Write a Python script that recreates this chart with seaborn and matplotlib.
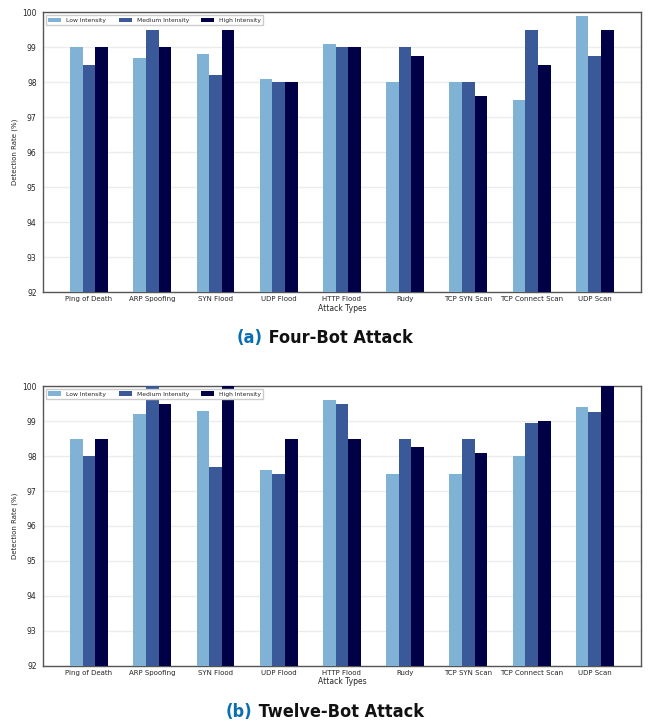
import pandas as pd
import matplotlib
matplotlib.use("Agg")
import matplotlib.pyplot as plt
from matplotlib import font_manager
import seaborn as sns

attack_types = ["Ping of Death", "ARP Spoofing", "SYN Flood", "UDP Flood", "HTTP Flood",
                "Rudy", "TCP SYN Scan", "TCP Connect Scan", "UDP Scan"]
levels = ["Low Intensity", "Medium Intensity", "High Intensity"]

# four-bot attack
four_low = [99.0, 98.7, 98.8, 98.1, 99.1, 98.0, 98.0, 97.5, 99.9]
four_med = [98.5, 99.5, 98.2, 98.0, 99.0, 99.0, 98.0, 99.5, 98.75]
four_high = [99.0, 99.0, 99.5, 98.0, 99.0, 98.75, 97.6, 98.5, 99.5]

# twelve-bot attack
twelve_low = [98.5, 99.2, 99.3, 97.6, 99.6, 97.5, 97.5, 98.0, 99.4]
twelve_med = [98.0, 100.0, 97.7, 97.5, 99.5, 98.5, 98.5, 98.95, 99.25]
twelve_high = [98.5, 99.5, 100.0, 98.5, 98.5, 98.25, 98.1, 99.0, 100.0]

colors = ["#7fb2d5", "#3a5999", "#000047"]

sns.set_theme(style="white")
plt.rcParams['font.family'] = ['DejaVu Sans']

# caption font: condensed if it exists
cond = [f for f in font_manager.fontManager.ttflist
        if f.name == "DejaVu Sans" and "ondensed" in f.fname and "Bold" in f.fname]
cap_kw = dict(fontsize=12.5, fontweight="bold")
if cond:
    cap_kw = dict(fontsize=13, fontproperties=font_manager.FontProperties(fname=cond[0].fname, size=13))


def to_long(low, med, high):
    rows = []
    for lvl, vals in zip(levels, [low, med, high]):
        for a, v in zip(attack_types, vals):
            rows.append({"Attack": a, "Intensity": lvl, "Rate": v})
    return pd.DataFrame(rows)


def draw(ax, df):
    sns.barplot(data=df, x="Attack", y="Rate", hue="Intensity", hue_order=levels,
                palette=colors, width=0.6, saturation=1, linewidth=0, ax=ax, zorder=3)
    ax.set_ylim(92, 100)
    ax.set_xlim(-0.73, 8.73)
    ax.set_yticks(range(92, 101))
    ax.yaxis.grid(True, color="#ececec", linewidth=1.0, zorder=0)
    ax.set_axisbelow(True)
    ax.set_xlabel("Attack Types", fontsize=5.5, labelpad=1)
    ax.set_ylabel("Detection Rate (%)", fontsize=5, labelpad=3)
    ax.tick_params(axis="y", labelsize=5.5, length=2.5, width=0.8, pad=2, color="#333333")
    ax.tick_params(axis="x", labelsize=5, length=0, pad=3)
    for s in ax.spines.values():
        s.set_color("#555555")
        s.set_linewidth(1.0)
    ax.legend(loc="upper left", ncol=3, fontsize=4.3, frameon=True, framealpha=1,
              edgecolor="#cccccc", fancybox=False, borderpad=0.4, handlelength=2.2,
              columnspacing=2.1, bbox_to_anchor=(0.0, 1.0))


fig = plt.figure(figsize=(6.5, 7.23), dpi=100)
ax1 = fig.add_axes([0.066, 0.596, 0.920, 0.387])
ax2 = fig.add_axes([0.066, 0.079, 0.920, 0.387])

draw(ax1, to_long(four_low, four_med, four_high))
draw(ax2, to_long(twelve_low, twelve_med, twelve_high))

r = fig.canvas.get_renderer()
for y, tag, name in [(0.532, "(a)", " Four-Bot Attack"), (0.015, "(b)", " Twelve-Bot Attack")]:
    t = fig.text(0.5, y, tag + name, ha="center", va="center", alpha=0, **cap_kw)
    w = t.get_window_extent(r).width / fig.bbox.width
    x0 = 0.5 - w / 2
    ta = fig.text(x0, y, tag, ha="left", va="center", color="#0a6fb0", **cap_kw)
    wa = ta.get_window_extent(r).width / fig.bbox.width
    fig.text(x0 + wa, y, name, ha="left", va="center", color="#111111", **cap_kw)

fig.savefig("out.png", dpi=100)
